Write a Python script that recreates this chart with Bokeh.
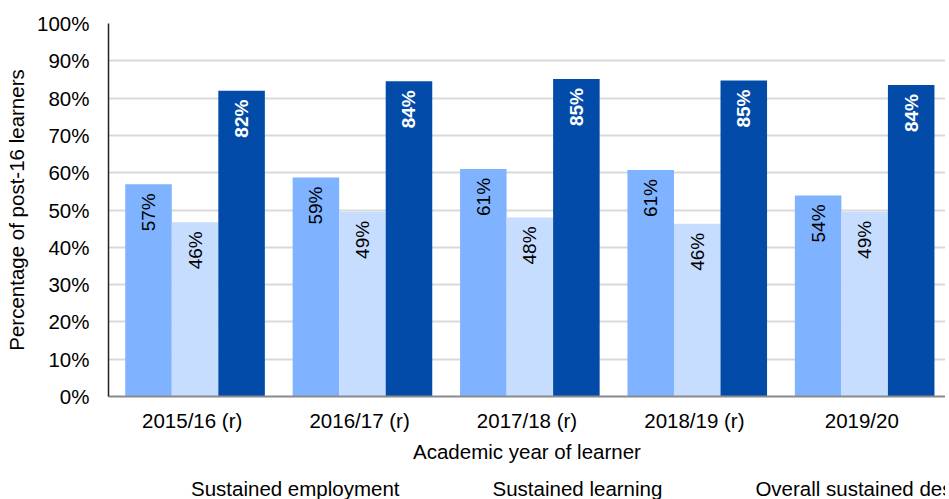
from math import pi
from bokeh.plotting import figure
from bokeh.layouts import column
from bokeh.models import (FactorRange, Range1d, Legend, LegendItem, PrintfTickFormatter,
                          FixedTicker, ColumnDataSource)
from bokeh.transform import dodge
from bokeh.core.properties import value
from bokeh.embed import file_html
from bokeh.resources import INLINE

years = ["2015/16 (r)", "2016/17 (r)", "2017/18 (r)", "2018/19 (r)", "2019/20"]
employment = [56.9, 58.7, 61.0, 60.7, 53.9]
learning = [46.7, 49.5, 48.0, 46.3, 49.5]
overall = [82.0, 84.5, 85.1, 84.7, 83.5]
employment_labels = ["57%", "59%", "61%", "61%", "54%"]
learning_labels = ["46%", "49%", "48%", "46%", "49%"]
overall_labels = ["82%", "84%", "85%", "85%", "84%"]
series_names = ["Sustained employment", "Sustained learning", "Overall sustained destination"]
y_ticks = [0, 10, 20, 30, 40, 50, 60, 70, 80, 90, 100]

FONT = "Liberation Sans"
colors = ["#7fb2ff", "#c6ddff", "#034ba8"]

src = ColumnDataSource(dict(
    year=years, emp=employment, lea=learning, ove=overall,
    emp_l=employment_labels, lea_l=learning_labels, ove_l=overall_labels,
))

p = figure(x_range=FactorRange(factors=years, range_padding=0), y_range=(0, 100),
           frame_width=837, frame_height=373, output_backend="svg", toolbar_location=None,
           min_border_top=23, min_border_left=108, min_border_right=0, min_border_bottom=0)
p.outline_line_color = None
p.background_fill_color = "white"
p.border_fill_color = "white"

bw = 0.278
off = 0.017
cols = ["emp", "lea", "ove"]
labs = ["emp_l", "lea_l", "ove_l"]
for i, (c, col) in enumerate(zip(cols, colors)):
    p.vbar(x=dodge("year", (i - 1) * bw + off, range=p.x_range), top=c, width=bw,
           source=src, fill_color=col, line_color=None)
    p.text(x=dodge("year", (i - 1) * bw + off, range=p.x_range), y=c, text=labs[i],
           source=src, angle=pi / 2, text_align="right", text_baseline="middle",
           y_offset=9, text_font=value(FONT), text_font_size="19px",
           text_color="white" if i == 2 else "black",
           text_font_style="bold" if i == 2 else "normal")

p.yaxis.ticker = FixedTicker(ticks=y_ticks)
p.yaxis.formatter = PrintfTickFormatter(format="%d%%")
p.yaxis.axis_label = "Percentage of post-16 learners"
p.xaxis.axis_label = "Academic year of learner"
for ax in [p.xaxis[0], p.yaxis[0]]:
    ax.major_label_text_font = FONT
    ax.major_label_text_font_size = "20.5px"
    ax.major_label_text_color = "black"
    ax.axis_label_text_font = FONT
    ax.axis_label_text_font_size = "20.5px"
    ax.axis_label_text_font_style = "normal"
    ax.axis_label_text_color = "black"
    ax.major_tick_line_color = None
    ax.minor_tick_line_color = None
    ax.major_tick_out = 0
    ax.major_tick_in = 0
    ax.minor_tick_out = 0
p.yaxis.axis_line_color = "#222222"
p.yaxis.axis_line_width = 1.5
p.yaxis.major_label_standoff = 19
p.yaxis.axis_label_standoff = 6
p.xaxis.axis_line_color = "#8a8a8a"
p.xaxis.axis_line_width = 2
p.xaxis.major_label_standoff = 12
p.xaxis.axis_label_standoff = 5

p.xgrid.grid_line_color = None
p.ygrid.grid_line_color = "#d9d9d9"
p.ygrid.grid_line_width = 2
p.ygrid.ticker = FixedTicker(ticks=y_ticks)

# Legend strip as a separate small figure below the chart
lg = figure(width=945, height=36, x_range=Range1d(0, 1), y_range=Range1d(0, 1),
            output_backend="svg", toolbar_location=None, x_axis_type=None, y_axis_type=None,
            min_border_top=0, min_border_left=0, min_border_right=0, min_border_bottom=0)
lg.outline_line_color = None
lg.xgrid.grid_line_color = None
lg.ygrid.grid_line_color = None
lg.border_fill_color = "white"
legend_renderers = []
for col in colors:
    legend_renderers.append(lg.vbar(x=[], top=[], width=0.1, fill_color=col, line_color=None))
legend = Legend(items=[LegendItem(label=n, renderers=[r]) for n, r in zip(series_names, legend_renderers)],
                orientation="horizontal", location=(66, 0),
                label_text_font=FONT, label_text_font_size="20.5px", label_text_color="black",
                glyph_width=10, glyph_height=10, label_standoff=7, spacing=76,
                border_line_color=None, background_fill_alpha=0, padding=0, margin=0)
lg.add_layout(legend, "center")

layout = column(p, lg, spacing=0)
open("out.html", "w").write(file_html(layout, INLINE))
